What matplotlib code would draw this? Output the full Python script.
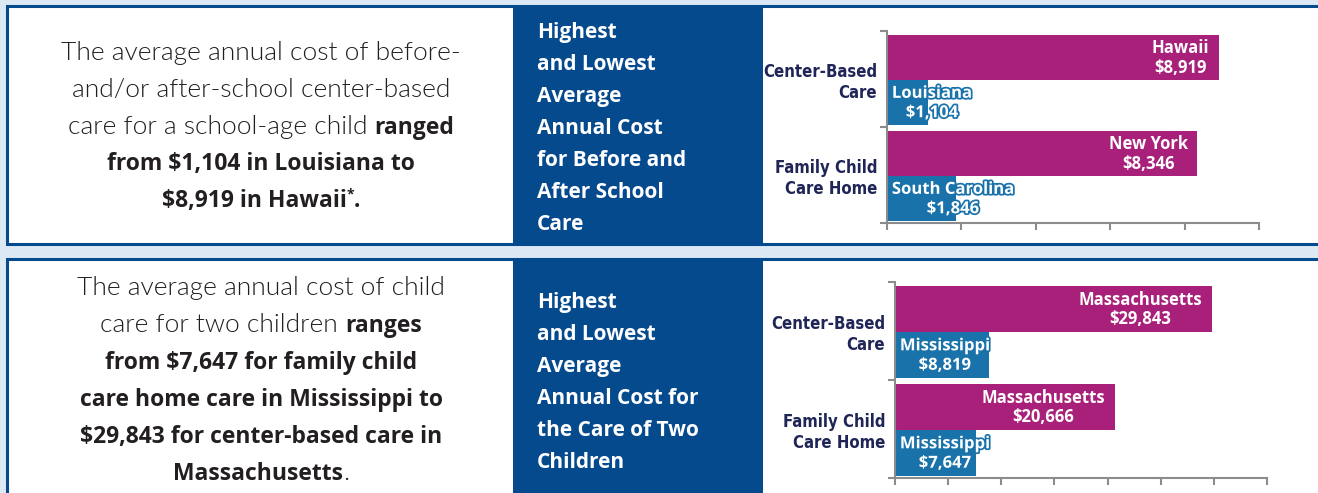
import matplotlib
matplotlib.use('Agg')
import matplotlib.pyplot as plt
import matplotlib.patheffects as pe
from matplotlib.patches import Rectangle

plt.rcParams['text.parse_math'] = False

# data
categories = ['Family Child\nCare Home', 'Center-Based\nCare']

before_after_high_states = ['New York', 'Hawaii']
before_after_high = [8346, 8919]
before_after_low_states = ['South Carolina', 'Louisiana']
before_after_low = [1846, 1104]

two_kids_high_states = ['Massachusetts', 'Massachusetts']
two_kids_high = [20666, 29843]
two_kids_low_states = ['Mississippi', 'Mississippi']
two_kids_low = [7647, 8819]

box_title_1 = ['Highest', 'and Lowest', 'Average', 'Annual Cost', 'for Before and',
               'After School', 'Care']
box_title_2 = ['Highest', 'and Lowest', 'Average', 'Annual Cost for', 'the Care of Two',
               'Children']

# (text, bold, superscript)
lines_1 = [
    [('The average annual cost of before-', False, False)],
    [('and/or after-school center-based', False, False)],
    [('care for a school-age child ', False, False), ('ranged', True, False)],
    [('from $1,104 in Louisiana to', True, False)],
    [('$8,919 in Hawaii', True, False), ('*', True, True), ('.', True, False)],
]
lines_2 = [
    [('The average annual cost of child', False, False)],
    [('care for two children ', False, False), ('ranges', True, False)],
    [('from $7,647 for family child', True, False)],
    [('care home care in Mississippi to', True, False)],
    [('$29,843 for center-based care in', True, False)],
    [('Massachusetts', True, False), ('.', False, False)],
]

BG = '#dce8f4'
NAVY = '#064a8e'
MAGENTA = '#a8207a'
BLUE = '#1a72aa'
LABEL = '#1f2556'
INK = '#231f20'
GREY = '#8c8c8c'

W, H = 1318, 493
fig = plt.figure(figsize=(W / 100, H / 100), dpi=100, facecolor=BG)
bg = fig.add_axes([0, 0, 1, 1])
bg.set_xlim(0, W)
bg.set_ylim(H, 0)
bg.axis('off')

# panels
for top, bottom in [(6, 244), (259, 510)]:
    bg.add_patch(Rectangle((7, top), W + 20, bottom - top, facecolor='white',
                           edgecolor=NAVY, lw=2.2, zorder=1))
    bg.add_patch(Rectangle((513, top - 1), 250, bottom - top + 2, facecolor=NAVY,
                           edgecolor='none', zorder=2))

for title, y0 in [(box_title_1, 38), (box_title_2, 308)]:
    for i, s in enumerate(title):
        bg.text(537, y0 + i * 32, s, color='white', fontsize=15, fontweight='bold',
                family='Open Sans', va='baseline', ha='left', zorder=3)

renderer = fig.canvas.get_renderer()


def draw_lines(lines, cx, y0, step):
    for i, segs in enumerate(lines):
        y = y0 + i * step
        texts = []
        for s, bold, sup in segs:
            if bold:
                kw = dict(fontweight='bold', family='Open Sans', fontsize=(10 if sup else 16.5))
            else:
                kw = dict(fontweight=300, family='Lato', fontsize=19)
            t = bg.text(0, y - (9 if sup else 0), s, color=INK, va='baseline', ha='left',
                        zorder=3, **kw)
            texts.append(t)
        widths = [t.get_window_extent(renderer).width for t in texts]
        x = cx - sum(widths) / 2
        for t, w in zip(texts, widths):
            t.set_x(x)
            x += w


draw_lines(lines_1, 261, 60, 36.8)
draw_lines(lines_2, 261, 295, 37.0)


def bar_chart(rect, xmax, step, high, high_states, low, low_states):
    ax = fig.add_axes(rect)
    y = range(len(categories))
    yh = [v + 0.72 for v in y]
    yl = [v + 0.255 for v in y]
    ax.barh(yh, high, height=0.47, color=MAGENTA, edgecolor='none')
    ax.barh(yl, low, height=0.46, color=BLUE, edgecolor='none')
    for yy, v, s in zip(yh, high, high_states):
        ax.annotate(f'{s}\n${v:,}', (v, yy), xytext=(-7, 0), textcoords='offset points',
                    ha='right', va='center', multialignment='center', color='white',
                    fontsize=12, fontweight='bold', family='Open Sans', linespacing=1.1)
    for yy, v, s in zip(yl, low, low_states):
        ax.annotate(f'{s}\n${v:,}', (0, yy), xytext=(3.5, 0), textcoords='offset points',
                    ha='left', va='center', multialignment='center', color='white',
                    fontsize=12, fontweight='bold', family='Open Sans', linespacing=1.1,
                    path_effects=[pe.withStroke(linewidth=2.5, foreground=BLUE)])
    ax.set_xlim(0, xmax)
    ax.set_ylim(0, len(categories))
    ax.set_xticks(range(0, xmax + 1, step))
    ax.set_xticklabels([])
    ax.set_yticks(range(len(categories) + 1))
    ax.set_yticklabels([])
    ax.set_yticks([v + 0.5 for v in y], minor=True)
    ax.set_yticklabels(categories, minor=True, fontsize=12, fontweight='bold',
                       fontstretch='condensed', family='DejaVu Sans', color=LABEL)
    ax.tick_params(axis='y', which='minor', length=0, pad=7)
    ax.tick_params(axis='both', which='major', length=5, width=1.5, color=GREY)
    for sp in ['top', 'right']:
        ax.spines[sp].set_visible(False)
    for sp in ['left', 'bottom']:
        ax.spines[sp].set_color(GREY)
        ax.spines[sp].set_linewidth(1.5)
    ax.set_facecolor('none')
    return ax


bar_chart([887 / W, (H - 223) / H, 372 / W, 192 / H], 10000, 2000,
          before_after_high, before_after_high_states, before_after_low, before_after_low_states)
bar_chart([895 / W, (H - 478) / H, 372 / W, 196 / H], 35000, 5000,
          two_kids_high, two_kids_high_states, two_kids_low, two_kids_low_states)

fig.savefig('out.png', dpi=100, facecolor=BG)
